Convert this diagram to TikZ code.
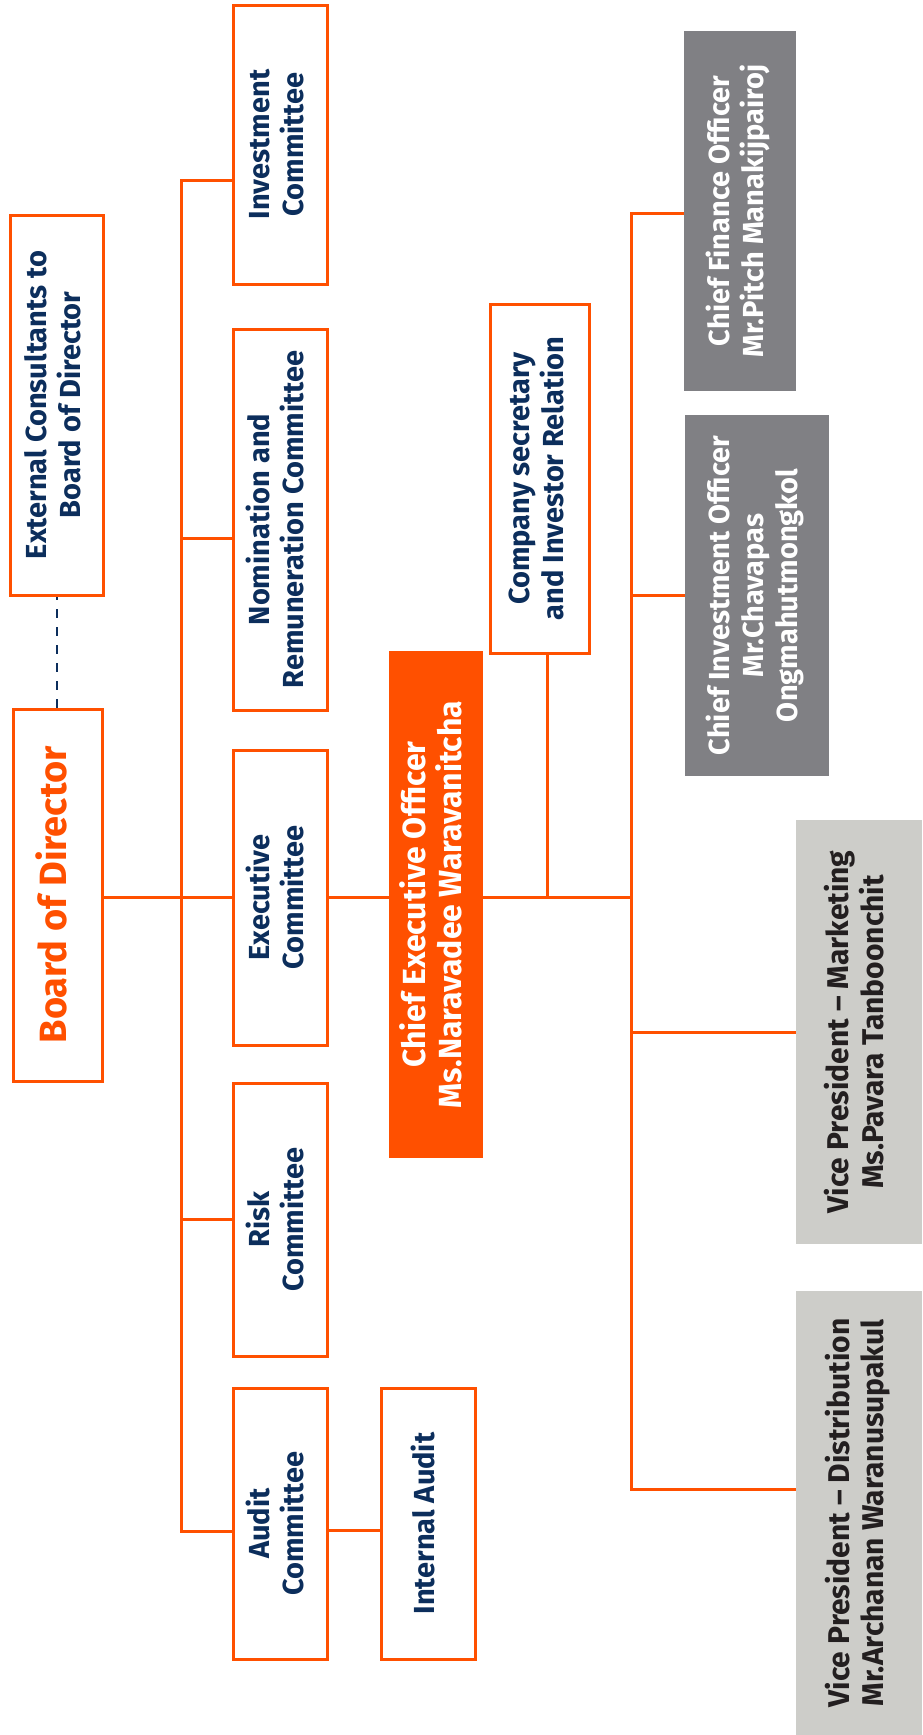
\documentclass[tikz,border=0pt]{standalone}
\usepackage{fontspec}
\setmainfont{Fira Sans}
\usepackage{graphicx}
\usetikzlibrary{positioning}

\definecolor{orgorange}{HTML}{FF5000}
\definecolor{orgnavy}{HTML}{0C2E5C}
\definecolor{execgrey}{HTML}{808084}
\definecolor{vpgrey}{HTML}{CDCDC9}
\definecolor{vptext}{HTML}{231F20}

\newcommand{\vtxt}[1]{\rotatebox{90}{\begin{tabular}{@{}c@{}}#1\end{tabular}}}

\tikzset{
	combox/.style={draw=orgorange, line width=1.5pt, fill=white, inner sep=0pt, minimum width=47pt, text=orgnavy, font=\bfseries\fontsize{14.5}{17}\selectfont},
	ceobox/.style={fill=orgorange, inner sep=0pt, text=white, font=\bfseries\fontsize{16}{17.5}\selectfont},
	cxobox/.style={fill=execgrey, inner sep=0pt, text=white, font=\bfseries\fontsize{14.5}{17}\selectfont},
	vpbox/.style={fill=vpgrey, inner sep=0pt, text=vptext, font=\bfseries\fontsize{15}{17}\selectfont},
	link/.style={draw=orgorange, line width=1.5pt},
}

\begin{document}
\begin{tikzpicture}[x=0.5pt,y=-0.5pt]
	\useasboundingbox (0,0) rectangle (922,1735);

	\node[combox, minimum width=46.5pt, minimum height=190pt] (ext) at (56.5,405) {\vtxt{External Consultants to\\Board of Director}};
	\node[combox, minimum width=44.5pt, minimum height=186pt, text=orgorange, font=\bfseries\fontsize{19}{20}\selectfont] (bod) at (57.5,895) {\vtxt{Board of Director}};

	\node[combox, minimum height=139.5pt] (inv) at (280,144.5) {\vtxt{Investment\\Committee}};
	\node[combox, minimum height=190.5pt] (nom) at (280,519.5) {\vtxt{Nomination and\\Remuneration Committee}};
	\node[combox, minimum height=147.5pt] (exe) at (280,897.5) {\vtxt{Executive\\Committee}};
	\node[combox, minimum height=136.5pt] (risk) at (280,1219.5) {\vtxt{Risk\\Committee}};
	\node[combox, minimum height=135.5pt] (aud) at (280,1523.5) {\vtxt{Audit\\Committee}};
	\node[combox, minimum height=135.5pt] (ia) at (428,1523.5) {\vtxt{Internal Audit}};

	\node[ceobox, minimum width=47pt, minimum height=253.5pt] (ceo) at (436,904.5) {\vtxt{Chief Executive Officer\\Ms.Naravadee Waravanitcha}};
	\node[combox, minimum width=49.5pt, minimum height=174.5pt] (csec) at (539.5,478.5) {\vtxt{Company secretary\\and Investor Relation}};

	\node[cxobox, minimum width=56pt, minimum height=180pt] (cfo) at (740,211) {\vtxt{Chief Finance Officer\\Mr.Pitch Manakijpairoj}};
	\node[cxobox, minimum width=72pt, minimum height=180.5pt] (cio) at (757,595.5) {\vtxt{Chief Investment Officer\\Mr.Chavapas\\Ongmahutmongkol}};
	\node[vpbox, minimum width=63pt, minimum height=212pt] (vpm) at (859,1032) {\vtxt{Vice President -- Marketing\\Ms.Pavara Tanboonchit}};
	\node[vpbox, minimum width=63pt, minimum height=222pt] (vpd) at (859,1513) {\vtxt{Vice President -- Distribution\\Mr.Archanan Waranusupakul}};

	\draw[orgnavy, line width=1pt, dash pattern=on 4.5pt off 4.5pt] (bod.north -| ext.south) -- (ext.south);

	\coordinate (lt) at (181,180);
	\coordinate (ln) at (181,538.5);
	\coordinate (lb) at (181,1531);
	\draw[link] (lt -| inv.west) -- (lt) -- (lb) -- (lb -| aud.west);
	\draw[link] (ln) -- (ln -| nom.west);
	\draw[link] (risk.west) -- (risk.west -| lt);
	\draw[link] (bod.east |- exe) -- (exe.west);
	\draw[link] ([yshift=-3.25pt]aud.east) -- ([yshift=-3.25pt]ia.west);

	\coordinate (cj) at (631,897);
	\coordinate (cs) at (547,897);
	\coordinate (rt) at (631,213.5);
	\coordinate (rb) at (631,1489);
	\draw[link] (exe.east) -- (exe.east -| ceo.west);
	\draw[link] (ceo.east |- cj) -- (cj);
	\draw[link] (cs |- csec.south) -- (cs);
	\draw[link] (rt -| cfo.west) -- (rt) -- (rb) -- (rb -| vpd.west);
	\draw[link] (cio.west) -- (cio.west -| rt);
	\draw[link] (vpm.west) -- (vpm.west -| rt);
\end{tikzpicture}
\end{document}
